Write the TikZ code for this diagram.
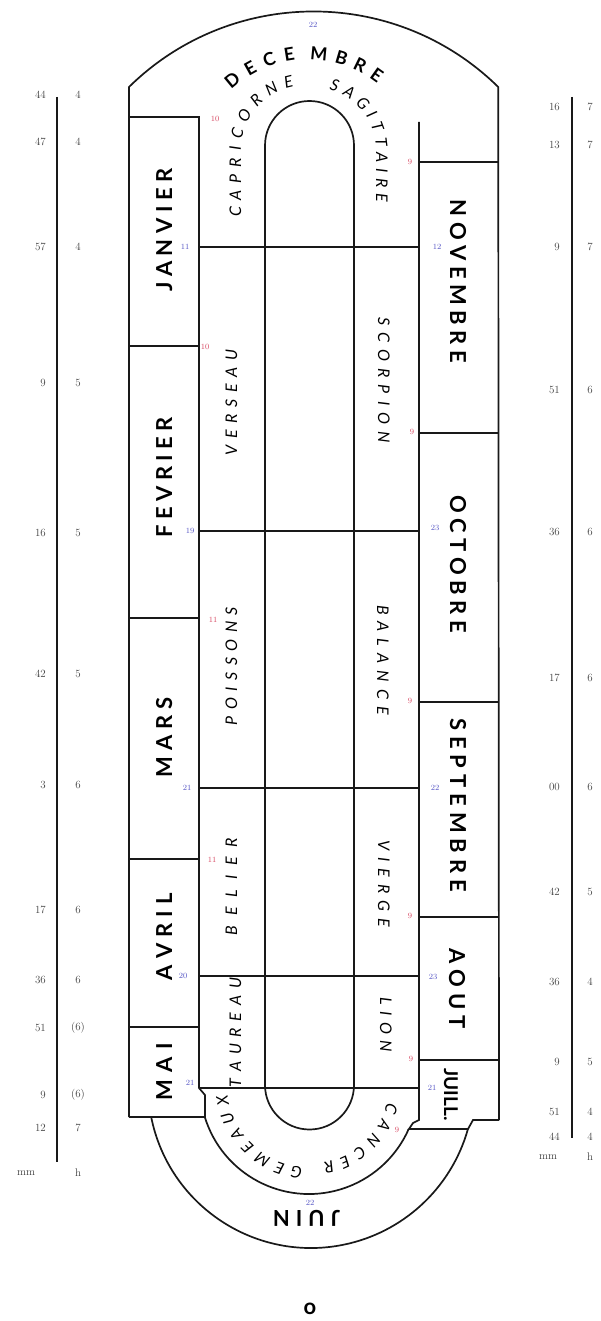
\documentclass[tikz,border=0pt]{standalone}
\usepackage{fontspec}
\usetikzlibrary{decorations.text}
\newfontfamily\capsfont{Lato}
\newcommand\monthfnt{\capsfont\bfseries\fontsize{22}{22}\selectfont}
\newcommand\juillfnt{\capsfont\bfseries\fontsize{19}{19}\selectfont}
\newcommand\topfnt{\capsfont\bfseries\fontsize{18}{18}\selectfont}
\newcommand\signfnt{\capsfont\itshape\fontsize{16}{16}\selectfont}
\definecolor{startred}{RGB}{214,70,96}
\definecolor{endblue}{RGB}{84,84,196}
\tikzset{
  rim/.style={line width=1.7pt, black!90},
  spaced/.style 2 args={decorate, decoration={text along path, text align={fit to path}, text={|#1|#2}}},
  startday/.style={text=startred, font=\fontsize{8}{8}\selectfont, inner sep=0pt},
  endday/.style={text=endblue, font=\fontsize{8}{8}\selectfont, inner sep=0pt},
  scalenum/.style={text=black!75, font=\fontsize{11}{11}\selectfont, inner sep=0pt}
}

\begin{document}
\begin{tikzpicture}[x=1pt, y=-1pt]
  \useasboundingbox (0,0) rectangle (600,1321);
  % outline of the dial
  \draw[rim] (129,1117) -- (129,87) arc[start angle=225.5, end angle=314.5, radius=263.4] -- (499,1120);
  \draw[rim] (129,117) -- (199,117) -- (199,1088) -- (205,1095) -- (205,1117) -- (129,1117);
  \draw[rim] (419,122) -- (419,1120) -- (413,1123) -- (409,1129) -- (468,1129) -- (473,1120) -- (499,1120);
  \foreach \y in {346,618,859,1027} \draw[rim] (129,\y) -- (199,\y);
  \foreach \y in {162,433,702,917,1060} \draw[rim] (419,\y) -- (499,\y);
  \foreach \y in {247,531,788,976,1088} \draw[rim] (199,\y) -- (419,\y);
  \draw[rim] (265,1085) -- (265,145.5) arc[start angle=180, end angle=360, radius=44.5]
    -- (354,1085) arc[start angle=0, end angle=180, radius=44.5];
  \draw[rim] (309,1085) ++(163:109) arc[start angle=163, end angle=23.8, radius=109];
  \draw[rim] (311,1085) ++(168.7:163) arc[start angle=168.7, end angle=15.7, radius=163];

  % scales
  \draw[rim] (57,97) -- (57,1162);
  \draw[rim] (572,97) -- (572,1138);
  \foreach \y/\m/\h [count=\i] in {95/44/4, 142/47/4, 247/57/4, 383/9/5, 533/16/5, 674/42/5,
      785/3/6, 910/17/6, 980/36/6, 1028/51/(6), 1095/9/(6), 1128/12/7}{
    \node[scalenum, anchor=east] (lmm\i) at (46,\y) {\m};
    \node[scalenum] (lh\i) at (78,\y) {\h};
  }
  \node[scalenum] (lmm) at (26,1173) {mm};
  \node[scalenum] (lh) at (78,1173) {h};
  \foreach \y/\m/\h [count=\i] in {107/16/7, 145/13/7, 247/9/7, 390/51/6, 532/36/6, 678/17/6,
      787/00/6, 892/42/5, 982/36/4, 1062/9/5, 1112/51/4, 1137/44/4}{
    \node[scalenum, anchor=east] (rmm\i) at (560,\y) {\m};
    \node[scalenum] (rh\i) at (590,\y) {\h};
  }
  \node[scalenum] (rmm) at (548,1157) {mm};
  \node[scalenum] (rh) at (590,1157) {h};

  % months
  \path[spaced={\monthfnt}{JANVIER}] (172,292) -- (172,168);
  \path[spaced={\monthfnt}{FEVRIER}] (172,537) -- (172,417);
  \path[spaced={\monthfnt}{MARS}] (172,777) -- (172,697);
  \path[spaced={\monthfnt}{AVRIL}] (172,980) -- (172,893);
  \path[spaced={\monthfnt}{MAI}] (172,1100) -- (172,1043);
  \path[spaced={\monthfnt}{NOVEMBRE}] (450,200) -- (450,363);
  \path[spaced={\monthfnt}{OCTOBRE}] (450,495) -- (450,633);
  \path[spaced={\monthfnt}{SEPTEMBRE}] (450,718) -- (450,892);
  \path[spaced={\monthfnt}{AOUT}] (449,948) -- (449,1029);
  \path[spaced={\juillfnt}{JUILL.}] (444,1068) -- (444,1121);
  \path[spaced={\topfnt}{DECE}] (308,172) ++(227:112.5) arc[start angle=227, end angle=263.5, radius=112.5];
  \path[spaced={\topfnt}{MBRE}] (308,172) ++(271:112.5) arc[start angle=271, end angle=308, radius=112.5];
  \path[spaced={\monthfnt}{JUIN}] (340,1210) -- (273,1210);

  % signs of the zodiac
  \path[spaced={\signfnt}{CAPRICORNE}] (241,217) -- (241,150) arc[start angle=180, end angle=260, radius=64];
  \path[spaced={\signfnt}{SAGITTAIRE}] (314,150) ++(284:62) arc[start angle=284, end angle=360, radius=62] -- (376,202);
  \path[spaced={\signfnt}{VERSEAU}] (237,455) -- (237,350);
  \path[spaced={\signfnt}{POISSONS}] (237,725) -- (237,607);
  \path[spaced={\signfnt}{BELIER}] (237,935) -- (237,838);
  \path[spaced={\signfnt}{TAUREAU}] (241,1087) -- (241,978);
  \path[spaced={\signfnt}{SCORPION}] (378,317) -- (378,443);
  \path[spaced={\signfnt}{BALANCE}] (377,605) -- (377,715);
  \path[spaced={\signfnt}{VIERGE}] (378,840) -- (378,927);
  \path[spaced={\signfnt}{LION}] (380,997) -- (380,1052);
  \path[spaced={\signfnt}{CANCER}] (310,1085) ++(12.8:79) arc[start angle=12.8, end angle=80.3, radius=79];
  \path[spaced={\signfnt}{GEMEAUX}] (310,1085) ++(95:83) arc[start angle=95, end angle=173, radius=83];

  % first and last days
  \node[startday] (s1) at (215,119) {10};
  \node[startday] (s2) at (205,347) {10};
  \node[startday] (s3) at (213,620) {11};
  \node[startday] (s4) at (212,860) {11};
  \node[startday] (s5) at (410,162) {9};
  \node[startday] (s6) at (412,432) {9};
  \node[startday] (s7) at (410,701) {9};
  \node[startday] (s8) at (410,916) {9};
  \node[startday] (s9) at (411,1059) {9};
  \node[startday] (s10) at (397,1130) {9};
  \node[endday] (e1) at (185,247) {11};
  \node[endday] (e2) at (190,531) {19};
  \node[endday] (e3) at (187,788) {21};
  \node[endday] (e4) at (183,976) {20};
  \node[endday] (e5) at (190,1083) {21};
  \node[endday] (e6) at (437,247) {12};
  \node[endday] (e7) at (435,528) {23};
  \node[endday] (e8) at (435,788) {22};
  \node[endday] (e9) at (433,977) {23};
  \node[endday] (e10) at (432,1088) {21};
  \node[endday] (e11) at (313,25) {22};
  \node[endday] (e12) at (310,1203) {22};

  \node[font=\capsfont\bfseries\fontsize{22}{22}\selectfont, inner sep=0pt] (pole) at (310,1309) {o};
\end{tikzpicture}
\end{document}
